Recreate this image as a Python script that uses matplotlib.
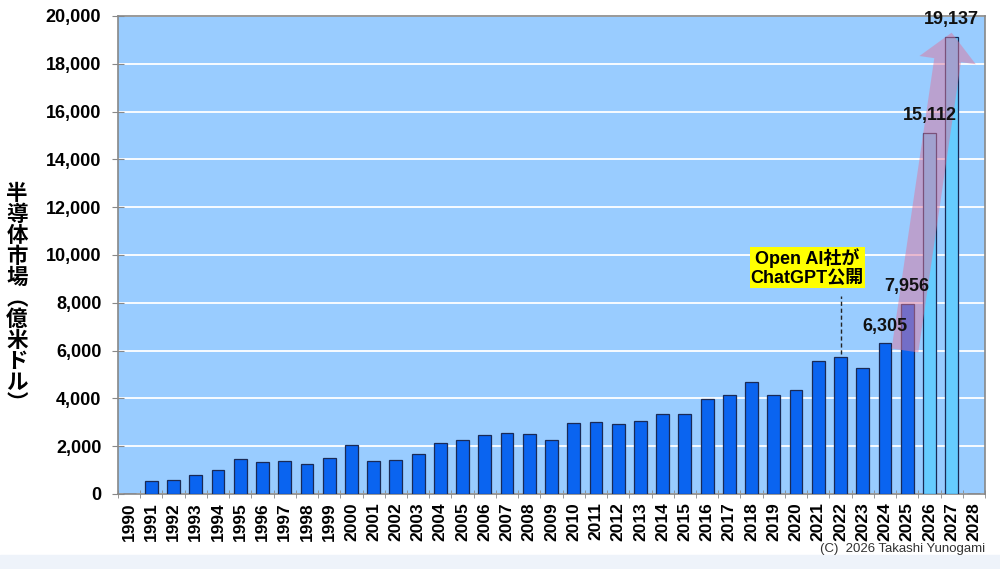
import matplotlib.pyplot as plt
from matplotlib.patches import Rectangle

# データ
years = [str(y) for y in range(1990, 2029)]
market = [0, 550, 600, 770, 1020, 1440, 1320, 1370, 1250, 1490,
          2040, 1390, 1410, 1660, 2130, 2275, 2480, 2560, 2490, 2260,
          2980, 2995, 2916, 3056, 3358, 3352, 3975, 4122, 4688, 4123,
          4351, 5559, 5741, 5268, 6305, 7956, 15112, 19137, 0]
forecast_from = '2026'
labeled_years = ['2024', '2025', '2026', '2027']
event_year = '2022'
event_text = 'Open AI社が\nChatGPT公開'
ylabel = '半導体市場︵億米ドル︶'
credit = '(C)  2026 Takashi Yunogami'

fonts = ['Liberation Sans Narrow', 'Liberation Sans', 'Noto Sans CJK JP', 'DejaVu Sans']
plt.rcParams['font.family'] = fonts

fig = plt.figure(figsize=(10, 5.69), dpi=100)
fig.patches.append(Rectangle((0, 0), 1, 0.025, transform=fig.transFigure,
                             color='#eef3fa', zorder=0))
ax = fig.add_axes([0.118, 0.132, 0.867, 0.840])
ax.set_facecolor('#99ccff')

x = list(range(len(years)))
fi = years.index(forecast_from)
colors = ['#0a64f0' if i < fi else '#66ccff' for i in x]
ax.bar(x, market, width=0.58, color=colors, edgecolor='#1a2a55', linewidth=0.9, zorder=3)

# 予測の矢印
i0 = years.index('2025')
i1 = years.index('2027')
ax.annotate('', xy=(i1, 19300), xytext=(i0 - 0.1, 6000),
            arrowprops=dict(arrowstyle='simple,head_length=1.0,head_width=2.05,tail_width=0.97',
                            mutation_scale=20, fc='#dc78a0', ec='none', alpha=0.5,
                            shrinkA=0, shrinkB=0),
            zorder=4)

# 数値ラベル
for yr in labeled_years:
    i = years.index(yr)
    ax.text(i, market[i] + 350, f'{market[i]:,}', ha='center', va='bottom',
            fontsize=13, fontweight='bold', color='#111111', zorder=5)

# イベント注記
ie = years.index(event_year)
ax.plot([ie, ie], [market[ie] + 100, 8300], ls=(0, (3, 2)), color='#222222', lw=1, zorder=5)
ax.text(ie - 1.5, 8650, event_text, ha='center', va='bottom', fontsize=13,
        fontweight='bold', linespacing=1.15, zorder=6,
        bbox=dict(boxstyle='square,pad=0.05', fc='#ffff00', ec='none'))

ax.set_xlim(-0.5, len(years) - 0.5)
ax.set_ylim(0, 20000)
ax.set_yticks(range(0, 20001, 2000))
ax.set_yticklabels([f'{v:,}' for v in range(0, 20001, 2000)], fontsize=13, fontweight='bold')
ax.yaxis.grid(True, color='white', lw=1.3, zorder=1)
ax.set_axisbelow(True)

ax.set_xticks(x)
ax.set_xticklabels(years, rotation=90, fontsize=12.5, fontweight='bold')
ax.set_xticks([i - 0.5 for i in range(len(years) + 1)], minor=True)
ax.tick_params(axis='x', which='major', length=0, pad=6)
ax.tick_params(axis='x', which='minor', length=6, color='#888888', direction='inout')
ax.tick_params(axis='y', length=8, color='#888888', direction='inout', pad=8)
for s in ax.spines.values():
    s.set_color('#888888')
    s.set_linewidth(1.2)

fig.text(0.017, 0.475, '\n'.join(ylabel), ha='center', va='center', fontsize=15.5,
         fontweight='bold', linespacing=1.0, family=['Noto Sans CJK JP', 'DejaVu Sans'])
fig.text(0.985, 0.035, credit, ha='right', va='center', fontsize=9.5, color='#333333')

fig.savefig('out.png', dpi=100)
